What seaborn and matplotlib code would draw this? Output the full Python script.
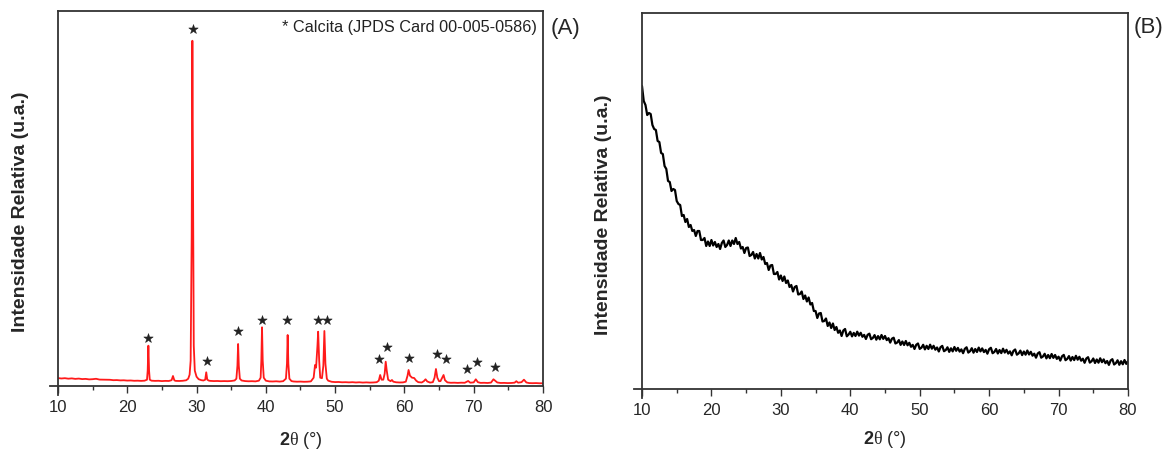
import numpy as np
import pandas as pd
import seaborn as sns
import matplotlib.pyplot as plt
from matplotlib.ticker import MultipleLocator

sns.set_theme(style="white")
plt.rcParams["font.family"] = ["Liberation Sans", "DejaVu Sans"]
plt.rcParams["mathtext.fontset"] = "custom"
plt.rcParams["mathtext.rm"] = "Liberation Serif"
plt.rcParams["mathtext.bf"] = "Liberation Sans:bold"

# (A) difratograma da amostra com calcita
tt_a = [10.0, 10.5, 11.0, 11.5, 12.0, 12.5, 13.0, 13.5, 14.0, 14.5, 15.0, 15.5, 16.0, 16.5,
        17.0, 17.5, 18.0, 18.5, 19.0, 19.5, 20.0, 20.5, 21.0, 21.5, 22.0, 22.5, 22.85, 22.95,
        23.05, 23.15, 23.25, 23.5, 24.0, 24.5, 25.0, 25.5, 26.0, 26.4, 26.6, 26.8, 27.0, 27.5,
        28.0, 28.5, 28.8, 29.0, 29.15, 29.3, 29.4, 29.5, 29.6, 29.75, 30.0, 30.3, 30.7, 31.0,
        31.25, 31.4, 31.55, 31.8, 32.0, 32.5, 33.0, 33.5, 34.0, 34.5, 35.0, 35.5, 35.75, 35.9,
        36.0, 36.1, 36.25, 36.5, 37.0, 37.5, 38.0, 38.5, 39.0, 39.25, 39.35, 39.45, 39.55, 39.7,
        40.0, 40.5, 41.0, 41.5, 42.0, 42.5, 42.9, 43.05, 43.15, 43.25, 43.4, 43.7, 44.0, 44.5,
        45.0, 45.5, 46.0, 46.5, 46.9, 47.1, 47.25, 47.45, 47.55, 47.7, 47.85, 48.1, 48.3, 48.45,
        48.6, 48.8, 49.0, 49.5, 50.0, 50.5, 51.0, 51.5, 52.0, 52.5, 53.0, 53.5, 54.0, 54.5,
        55.0, 55.5, 56.0, 56.3, 56.5, 56.7, 56.95, 57.15, 57.3, 57.45, 57.65, 58.0, 58.2, 58.4,
        58.8, 59.3, 59.8, 60.2, 60.45, 60.6, 60.8, 61.1, 61.4, 61.7, 62.0, 62.5, 62.8, 63.05,
        63.3, 63.7, 64.1, 64.35, 64.55, 64.75, 65.0, 65.2, 65.45, 65.65, 65.85, 66.2, 66.7, 67.2,
        67.7, 68.2, 68.7, 69.0, 69.2, 69.5, 70.0, 70.3, 70.6, 71.0, 71.5, 72.0, 72.5, 72.85,
        73.1, 73.4, 73.9, 74.4, 74.9, 75.4, 75.9, 76.15, 76.4, 76.9, 77.25, 77.6, 78.0, 78.5,
        79.0, 79.5, 80.0]
int_a = [7.6, 7.2, 7.5, 7.0, 7.3, 6.8, 7.1, 6.6, 6.8, 6.3, 6.5, 6.9, 6.1, 6.0,
         5.8, 5.9, 5.5, 5.6, 5.3, 5.4, 5.1, 5.2, 4.9, 5.0, 4.8, 5.0, 6.0, 15,
         40, 15, 6.0, 5.0, 4.8, 4.9, 4.6, 4.8, 4.7, 5.5, 9.7, 5.3, 4.8, 4.7,
         4.9, 5.4, 7, 11, 25, 150, 345, 180, 40, 15, 9, 6.5, 5.5, 5.2,
         6, 13.4, 6, 5, 4.8, 4.6, 4.7, 4.5, 4.6, 4.5, 4.7, 5.2, 7, 20,
         41.7, 20, 7, 5.2, 4.6, 4.4, 4.5, 4.3, 5.0, 8, 25, 58.4, 25, 8,
         5, 4.3, 4.2, 4.4, 4.1, 4.5, 7, 22, 50.7, 22, 7, 4.6, 4.2, 4.0,
         4.1, 3.9, 4.0, 4.3, 8, 20.7, 18, 40, 54, 25, 8, 7.5, 20, 54.7,
         22, 7, 5, 3.9, 3.6, 3.7, 3.4, 3.5, 3.3, 3.5, 3.2, 3.4, 3.1, 3.3,
         3.1, 3.2, 3.5, 5, 10.7, 6, 6, 12, 24, 15, 6, 4.5, 5.7, 4,
         3.4, 3.2, 3.3, 4, 10, 15.7, 10, 8, 7.7, 5, 3.5, 3.2, 4.5, 6.4,
         4.2, 3.1, 3.5, 8, 16.7, 8, 4.5, 4.5, 8, 10.7, 5.5, 3.3, 2.9, 3.0,
         2.8, 3.0, 2.9, 4.0, 4.7, 3.0, 3.3, 6.4, 3.5, 2.8, 2.9, 2.7, 3.1, 6.4,
         5, 3.2, 2.7, 2.8, 2.6, 2.7, 3.0, 4.5, 3.0, 3.5, 6, 3.2, 2.6, 2.5,
         2.6, 2.4, 2.4]

# picos identificados como calcita (*)
star_tt = [23.03, 29.44, 31.46, 35.93, 39.48, 43.0, 47.56, 48.77, 56.36, 57.43,
           60.6, 64.65, 65.95, 68.97, 70.42, 73.06]
star_int = [47.4, 356.4, 24.7, 54.7, 65.7, 65.7, 65.7, 65.7, 26.7, 38.4,
            27.4, 31.4, 26.7, 16.4, 23.4, 18.4]

# (B) difratograma amorfo, passo de 0,25 grau
tt_b = np.arange(10, 80.001, 0.25)
int_b = [303, 288, 284, 274, 276, 275, 264, 260, 259, 248, 247, 236,
         235, 223, 220, 208, 207, 198, 200, 199, 188, 185, 184, 173,
         174, 167, 170, 162, 164, 158, 159, 153, 158, 158, 149, 149,
         151, 143, 147.5, 143, 149, 143.5, 147, 142, 145, 140, 146, 148.5,
         142, 144, 148.5, 143, 148.5, 145, 151, 145, 147, 140.5, 142, 136,
         141, 141.5, 133, 134, 137, 130.5, 135, 130.5, 136, 129.5, 132, 125,
         126, 119, 123.5, 124, 115, 115, 117, 109.5, 113.5, 108, 112.5, 106,
         108.5, 102, 104, 97.5, 102, 103, 94.5, 95, 97.5, 90, 93.5, 87.5,
         91.5, 84.5, 86, 78, 78, 71, 75.5, 76, 67.5, 68, 70.5, 63,
         66.5, 61, 65.5, 59, 62, 56.2, 58.5, 53, 58.5, 60, 52.7, 54.4,
         57.2, 52.6, 56.1, 53, 57.3, 53.4, 56.2, 52.2, 54.1, 50, 54.2, 55.3,
         49.8, 51, 53.9, 49.3, 52.9, 49.7, 54, 50.1, 53, 48.9, 50.8, 46.4,
         50.3, 51.3, 45.5, 46.4, 48.9, 44.1, 47.5, 44, 48, 43.7, 46.2, 42.2,
         44.1, 40, 44.2, 45.5, 40.1, 41.3, 44.2, 39.6, 43.2, 40, 44.3, 40.3,
         43.2, 39.3, 41.5, 37.5, 41.8, 43.1, 37.8, 38.9, 41.7, 37.1, 40.7, 37.6,
         42, 38.2, 41.1, 37.4, 39.6, 35.8, 40.2, 41.7, 36.4, 37.8, 40.8, 36.3,
         40, 37, 41.4, 37.6, 40.6, 36.9, 39.1, 35.3, 39.8, 41.2, 35.8, 37,
         40, 35.5, 39, 35.9, 40.3, 36.4, 39.2, 35.4, 37.6, 33.7, 38.1, 39.5,
         34.3, 35.6, 38.4, 33.9, 37.5, 34.3, 38.5, 34.5, 37.2, 33.3, 35.3, 31.3,
         35.5, 36.8, 31.3, 32.5, 35.2, 30.6, 34, 30.8, 35, 31.1, 34, 30.1,
         32.3, 28.4, 32.7, 34.1, 28.8, 30.1, 32.9, 28.4, 32, 28.9, 33.2, 29.3,
         32.2, 28.3, 30.3, 26.2, 30.5, 31.8, 26.4, 27.7, 30.5, 26, 29.5, 26.3,
         30.7, 26.8, 29.6, 25.8, 28, 24.1, 28.5, 29.8, 24.5, 25.8, 28.7, 24.2,
         27.8, 24.7, 29, 25.1, 27.9]

df_a = pd.DataFrame({"tt": tt_a, "I": int_a})
df_s = pd.DataFrame({"tt": star_tt, "I": star_int})
df_b = pd.DataFrame({"tt": tt_b, "I": int_b})

fig = plt.figure(figsize=(11.66, 4.53), dpi=100)
axA = fig.add_axes([0.0497, 0.1486, 0.416, 0.827])
axB = fig.add_axes([0.5506, 0.1413, 0.4168, 0.830])

sns.lineplot(data=df_a, x="tt", y="I", ax=axA, color="#ff1a1a", lw=1.3,
             sort=False, estimator=None)
sns.scatterplot(data=df_s, x="tt", y="I", ax=axA, marker="*", s=50,
                color="#222222", edgecolor="#222222", linewidth=0.4)
sns.lineplot(data=df_b, x="tt", y="I", ax=axB, color="black", lw=1.6,
             sort=False, estimator=None)

axA.set_ylim(0, 374.7)
axB.set_ylim(0, 376)

for ax in (axA, axB):
    ax.set_xlim(10, 80)
    ax.xaxis.set_major_locator(MultipleLocator(10))
    ax.xaxis.set_minor_locator(MultipleLocator(5))
    ax.tick_params(axis="x", which="major", direction="out", length=5, width=1,
                   labelsize=12, pad=5, color="#333333", bottom=True)
    ax.tick_params(axis="x", which="minor", direction="out", length=3, width=1,
                   color="#333333", bottom=True)
    ax.set_yticks([])
    for sp in ax.spines.values():
        sp.set_visible(True)
        sp.set_color("#333333")
        sp.set_linewidth(1.3)
    ax.spines["bottom"].set_bounds(8.85, 80)
    ax.set_xlabel(r"$\mathbf{2}\mathrm{\theta}$ (°)", fontsize=13, va="center")
    ax.set_ylabel("Intensidade Relativa (u.a.)", fontsize=14, fontweight="bold",
                  va="center")

axA.spines["left"].set_bounds(-9, 374.7)
axB.spines["left"].set_bounds(-9, 376)
axA.xaxis.set_label_coords(0.5, -0.145)
axB.xaxis.set_label_coords(0.5, -0.135)
axA.yaxis.set_label_coords(-0.078, 0.4636)
axB.yaxis.set_label_coords(-0.080, 0.463)

axA.text(0.988, 0.955, "* Calcita (JPDS Card 00-005-0586)", transform=axA.transAxes,
         ha="right", va="center", fontsize=11.7, color="#222222")

fig.text(0.4846, 0.938, "(A)", ha="center", va="center", fontsize=16)
fig.text(0.9846, 0.940, "(B)", ha="center", va="center", fontsize=16)

fig.savefig("out.png", dpi=100)
